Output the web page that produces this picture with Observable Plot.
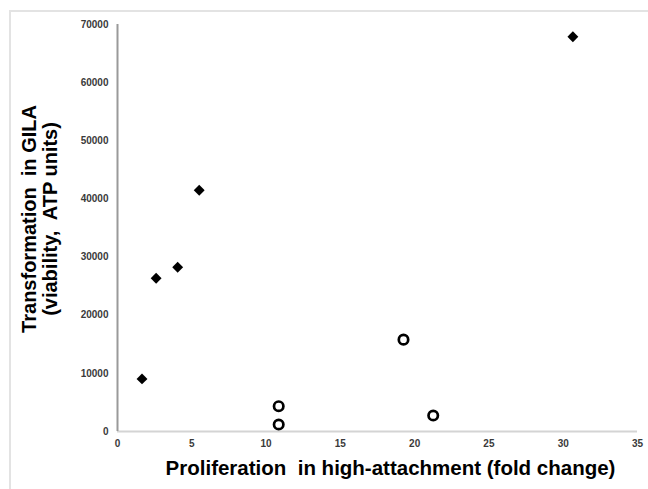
<!DOCTYPE html>
<html>
<head>
<meta charset="utf-8">
<script src="https://cdn.jsdelivr.net/npm/d3@7"></script>
<script src="https://cdn.jsdelivr.net/npm/@observablehq/plot@0.6"></script>
<style>
  html, body { margin: 0; padding: 0; background: #fff; }
  #wrap { position: relative; width: 648px; height: 489px; overflow: hidden; }
  #frame { position: absolute; left: 9px; top: 10px; width: 700px; height: 600px;
           border-top: 2px solid #e3e3e3; border-left: 2px solid #e3e3e3; }
  #chart { position: absolute; left: 0; top: 0; }
</style>
</head>
<body>
<div id="wrap"><div id="frame"></div><div id="chart"></div></div>
<script>
// Series 1 (filled diamonds)
const diamondX = [1.65, 2.6, 4.05, 5.5, 30.65];
const diamondY = [9050, 26350, 28250, 41500, 67900];
// Series 2 (open circles)
const circleX = [10.85, 10.85, 19.25, 21.25];
const circleY = [4350, 1200, 15800, 2750];

const xTicks = [0, 5, 10, 15, 20, 25, 30, 35];
const yTicks = [0, 10000, 20000, 30000, 40000, 50000, 60000, 70000];

const xTitle = "Proliferation  in high-attachment (fold change)";
const yTitle = "Transformation  in GILA\n(viability,  ATP units)";

const diamonds = diamondX.map((x, i) => ({x, y: diamondY[i]}));
const circles = circleX.map((x, i) => ({x, y: circleY[i]}));

const chart = Plot.plot({
  width: 648,
  height: 489,
  marginLeft: 117,
  marginRight: 11,
  marginTop: 24,
  marginBottom: 58,
  style: {background: "transparent", fontFamily: "Arial, 'Liberation Sans', sans-serif"},
  x: {domain: [0, 35]},
  y: {domain: [0, 70000]},
  marks: [
    Plot.ruleY([0], {stroke: "#d4d4d4", strokeWidth: 2}),
    Plot.ruleX([0], {stroke: "#9a9a9a", strokeWidth: 2}),
    Plot.axisX({ticks: xTicks, tickSize: 0, tickPadding: 8, label: null,
      fontSize: 10, fontWeight: "bold", fill: "#3a3a3a", tickFormat: d => String(d)}),
    Plot.axisY({ticks: yTicks, tickSize: 0, tickPadding: 9, label: null,
      fontSize: 10, fontWeight: "bold", fill: "#3a3a3a", tickFormat: d => String(d)}),
    Plot.dot(diamonds, {x: "x", y: "y", symbol: "diamond2", r: 4.9, fill: "#000", stroke: "none"}),
    Plot.dot(circles, {x: "x", y: "y", symbol: "circle", r: 4.7, fill: "none", stroke: "#000", strokeWidth: 2.7}),
    Plot.text([xTitle], {text: d => d, frameAnchor: "bottom", textAnchor: "middle", lineAnchor: "middle",
      dx: 13, dy: 37, fontSize: 20.5, fontWeight: "bold", fill: "#000"}),
    Plot.text([yTitle], {text: d => d, frameAnchor: "left", textAnchor: "middle", rotate: -90, dx: -78, dy: -9,
      lineAnchor: "middle", lineHeight: 1.05, fontSize: 20, fontWeight: "bold", fill: "#000"})
  ]
});
document.getElementById("chart").appendChild(chart);
</script>
</body>
</html>
